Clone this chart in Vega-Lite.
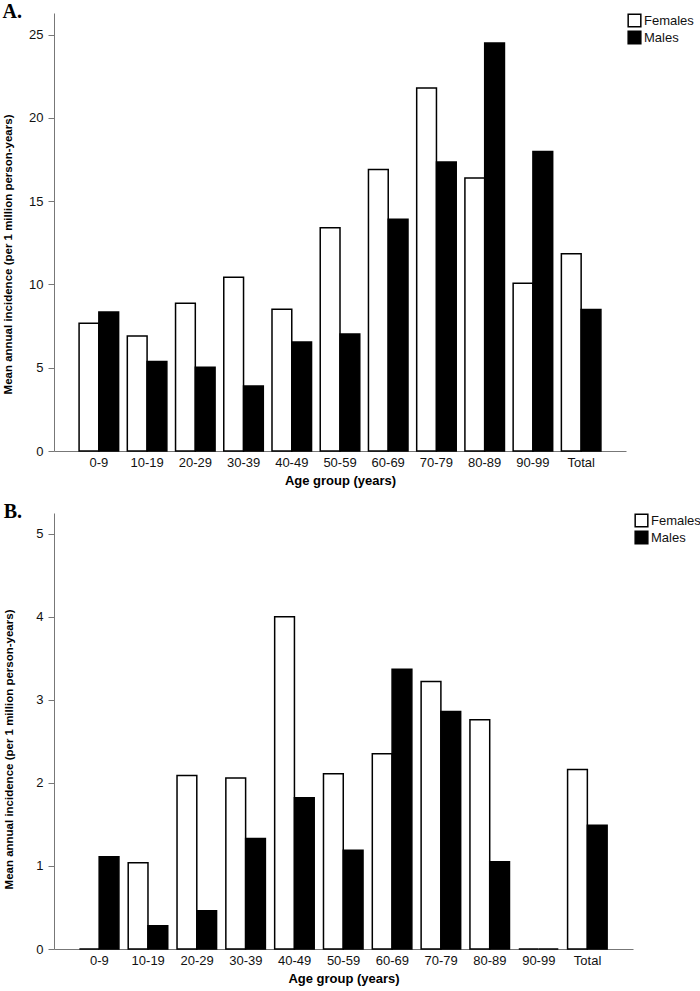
{
  "$schema": "https://vega.github.io/schema/vega-lite/v6.json",
  "padding": {"left": 2, "top": 2, "right": 0, "bottom": 2},
  "background": "white",
  "spacing": 15,
  "datasets": {
    "panelA": [
      {"age": "0-9", "sex": "Females", "rate": 7.67},
      {"age": "0-9", "sex": "Males", "rate": 8.35},
      {"age": "10-19", "sex": "Females", "rate": 6.91},
      {"age": "10-19", "sex": "Males", "rate": 5.37},
      {"age": "20-29", "sex": "Females", "rate": 8.87},
      {"age": "20-29", "sex": "Males", "rate": 5.03},
      {"age": "30-39", "sex": "Females", "rate": 10.44},
      {"age": "30-39", "sex": "Males", "rate": 3.91},
      {"age": "40-49", "sex": "Females", "rate": 8.51},
      {"age": "40-49", "sex": "Males", "rate": 6.55},
      {"age": "50-59", "sex": "Females", "rate": 13.4},
      {"age": "50-59", "sex": "Males", "rate": 7.03},
      {"age": "60-69", "sex": "Females", "rate": 16.9},
      {"age": "60-69", "sex": "Males", "rate": 13.92},
      {"age": "70-79", "sex": "Females", "rate": 21.8},
      {"age": "70-79", "sex": "Males", "rate": 17.35},
      {"age": "80-89", "sex": "Females", "rate": 16.39},
      {"age": "80-89", "sex": "Males", "rate": 24.5},
      {"age": "90-99", "sex": "Females", "rate": 10.08},
      {"age": "90-99", "sex": "Males", "rate": 17.99},
      {"age": "Total", "sex": "Females", "rate": 11.84},
      {"age": "Total", "sex": "Males", "rate": 8.49}
    ],
    "panelB": [
      {"age": "0-9", "sex": "Females", "rate": 0},
      {"age": "0-9", "sex": "Males", "rate": 1.11},
      {"age": "10-19", "sex": "Females", "rate": 1.04},
      {"age": "10-19", "sex": "Males", "rate": 0.28},
      {"age": "20-29", "sex": "Females", "rate": 2.09},
      {"age": "20-29", "sex": "Males", "rate": 0.46},
      {"age": "30-39", "sex": "Females", "rate": 2.06},
      {"age": "30-39", "sex": "Males", "rate": 1.33},
      {"age": "40-49", "sex": "Females", "rate": 4.0},
      {"age": "40-49", "sex": "Males", "rate": 1.82},
      {"age": "50-59", "sex": "Females", "rate": 2.11},
      {"age": "50-59", "sex": "Males", "rate": 1.19},
      {"age": "60-69", "sex": "Females", "rate": 2.35},
      {"age": "60-69", "sex": "Males", "rate": 3.37},
      {"age": "70-79", "sex": "Females", "rate": 3.22},
      {"age": "70-79", "sex": "Males", "rate": 2.86},
      {"age": "80-89", "sex": "Females", "rate": 2.76},
      {"age": "80-89", "sex": "Males", "rate": 1.05},
      {"age": "90-99", "sex": "Females", "rate": 0},
      {"age": "90-99", "sex": "Males", "rate": 0},
      {"age": "Total", "sex": "Females", "rate": 2.16},
      {"age": "Total", "sex": "Males", "rate": 1.49}
    ]
  },
  "config": {
    "view": {"stroke": null},
    "font": "Liberation Sans",
    "title": {"font": "Liberation Serif", "fontSize": 20, "fontWeight": "bold", "anchor": "start", "color": "black", "offset": -9},
    "axis": {
      "labelFont": "Liberation Sans",
      "labelFontSize": 13,
      "labelColor": "#111",
      "titleFont": "Liberation Sans",
      "titleFontWeight": "bold",
      "titleColor": "black",
      "domainColor": "#777",
      "tickColor": "#777",
      "grid": false
    },
    "legend": {
      "labelFont": "Liberation Sans",
      "labelFontSize": 13,
      "labelColor": "#111",
      "symbolType": "square",
      "symbolSize": 160,
      "symbolStrokeWidth": 1.5,
      "rowPadding": -8,
      "labelOffset": 2,
      "padding": 0,
      "offset": 1
    }
  },
  "vconcat": [
    {
      "title": "A.",
      "width": 572,
      "height": 438,
      "data": {"name": "panelA"},
      "mark": {"type": "bar", "stroke": "black", "strokeWidth": 1.5},
      "encoding": {
        "x": {
          "field": "age", "type": "nominal", "sort": null,
          "scale": {"paddingInner": 0.18, "paddingOuter": 0.52},
          "axis": {"title": "Age group (years)", "titleFontSize": 13, "labelAngle": 0, "ticks": false, "labelPadding": 5, "titlePadding": 5}
        },
        "xOffset": {"field": "sex", "type": "nominal", "scale": {"paddingInner": 0, "paddingOuter": 0}},
        "y": {
          "field": "rate", "type": "quantitative",
          "scale": {"domain": [0, 26.3], "nice": false},
          "axis": {"title": "Mean annual incidence (per 1 million person-years)", "titleFontSize": 11.5, "values": [0, 5, 10, 15, 20, 25], "tickSize": 6, "labelPadding": 5, "titlePadding": 15, "titleY": 241}
        },
        "fill": {
          "field": "sex", "type": "nominal",
          "scale": {"domain": ["Females", "Males"], "range": ["white", "black"]},
          "legend": {"title": null, "orient": "right"}
        }
      }
    },
    {
      "title": "B.",
      "width": 579,
      "height": 436,
      "data": {"name": "panelB"},
      "mark": {"type": "bar", "stroke": "black", "strokeWidth": 1.5},
      "encoding": {
        "x": {
          "field": "age", "type": "nominal", "sort": null,
          "scale": {"paddingInner": 0.18, "paddingOuter": 0.52},
          "axis": {"title": "Age group (years)", "titleFontSize": 13, "labelAngle": 0, "ticks": false, "labelPadding": 5, "titlePadding": 5}
        },
        "xOffset": {"field": "sex", "type": "nominal", "scale": {"paddingInner": 0, "paddingOuter": 0}},
        "y": {
          "field": "rate", "type": "quantitative",
          "scale": {"domain": [0, 5.25], "nice": false},
          "axis": {"title": "Mean annual incidence (per 1 million person-years)", "titleFontSize": 11.5, "values": [0, 1, 2, 3, 4, 5], "tickSize": 6, "labelPadding": 5, "titlePadding": 21, "titleY": 236}
        },
        "fill": {
          "field": "sex", "type": "nominal",
          "scale": {"domain": ["Females", "Males"], "range": ["white", "black"]},
          "legend": {"title": null, "orient": "right"}
        }
      }
    }
  ],
  "resolve": {"scale": {"fill": "independent", "x": "independent", "y": "independent"}, "legend": {"fill": "independent"}}
}
